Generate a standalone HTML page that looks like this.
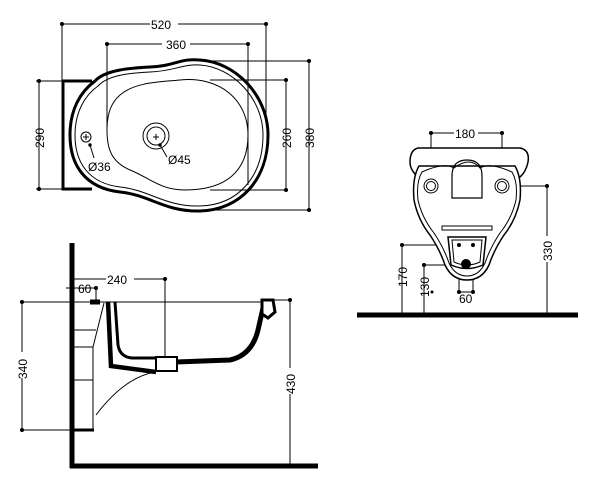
<!DOCTYPE html>
<html><head><style>
html,body{margin:0;padding:0;background:#fff;}
svg{display:block;}
text{font-family:"Liberation Sans",sans-serif;font-size:12px;fill:#000;}
</style></head><body>
<svg width="601" height="491" viewBox="0 0 601 491" xmlns="http://www.w3.org/2000/svg">
<g stroke="#000" fill="none" stroke-width="1">
<!-- TOP VIEW -->
<line x1="62" y1="24" x2="266" y2="24"/>
<line x1="62" y1="24" x2="62" y2="81"/>
<line x1="266" y1="24" x2="266" y2="118"/>
<line x1="107" y1="44" x2="248" y2="44"/>
<line x1="107" y1="44" x2="107" y2="130"/>
<line x1="248" y1="44" x2="248" y2="185"/>
<line x1="39" y1="81" x2="39" y2="189"/>
<line x1="36" y1="81" x2="64" y2="81"/>
<line x1="36" y1="189" x2="64" y2="189"/>
<line x1="286" y1="80" x2="286" y2="190"/>
<line x1="210" y1="80" x2="288" y2="80"/>
<line x1="210" y1="190" x2="288" y2="190"/>
<line x1="309" y1="61" x2="309" y2="210"/>
<line x1="200" y1="61" x2="311" y2="61"/>
<line x1="200" y1="210" x2="311" y2="210"/>
<!-- left rect -->
<path d="M92,81 L63,81 L63,189 L92,189" stroke-width="3"/>
<!-- outer body -->
<path d="M95,81 C105,70 130,68 150,67 C175,66 180,58 200,60 C235,62 268,95 268,135 C268,180 240,210 200,211 C165,212 150,195 120,192 C85,188 70,165 70,135 C70,110 80,92 95,81 Z" stroke-width="3"/>
<path d="M98,86 C108,75 130,73 150,72 C175,71 182,64 200,65 C232,67 263,98 263,135 C263,177 238,205 200,206 C165,207 150,190 120,187 C88,183 75,162 75,135 C75,112 85,95 98,86 Z"/>
<!-- inner basin -->
<path d="M120,95 C135,82 160,82 180,80 C220,76 248,100 248,135 C248,172 225,190 185,190 C160,190 150,178 130,170 C112,162 107,150 107,130 C107,112 112,102 120,95 Z"/>
<circle cx="86" cy="137" r="5"/>
<line x1="83" y1="137" x2="89" y2="137"/><line x1="86" y1="134" x2="86" y2="140"/>
<line x1="90" y1="145" x2="94" y2="158"/>
<circle cx="156" cy="136" r="13"/>
<circle cx="156" cy="136" r="9"/>
<line x1="153" y1="137" x2="159" y2="137"/><line x1="156" y1="134" x2="156" y2="140"/>
<line x1="160" y1="145" x2="167" y2="157"/>
</g>
<g fill="#000">
<circle cx="62" cy="24" r="2"/><circle cx="266" cy="24" r="2"/>
<circle cx="107" cy="44" r="2"/><circle cx="248" cy="44" r="2"/>
<circle cx="39" cy="81" r="2"/><circle cx="39" cy="189" r="2"/>
<circle cx="286" cy="80" r="2"/><circle cx="286" cy="190" r="2"/>
<circle cx="309" cy="61" r="2"/><circle cx="309" cy="210" r="2"/>
<circle cx="90" cy="145" r="1.7"/><circle cx="160" cy="145" r="1.7"/>
</g>
<rect x="150" y="18" width="28" height="12" fill="#fff"/>
<text x="151" y="29">520</text>
<rect x="162" y="38" width="28" height="12" fill="#fff"/>
<text x="166" y="49">360</text>
<text x="88" y="171">Ø36</text>
<text x="168" y="164">Ø45</text>
<text transform="translate(44,148) rotate(-90)">290</text>
<text transform="translate(291,148) rotate(-90)">260</text>
<text transform="translate(314,148) rotate(-90)">380</text>

<!-- SIDE VIEW -->
<g stroke="#000" fill="none" stroke-width="1">
<line x1="72" y1="279" x2="165" y2="279"/>
<line x1="165" y1="279" x2="165" y2="358"/>
<line x1="66" y1="288" x2="96" y2="288"/>
<line x1="96" y1="288" x2="96" y2="302"/>
<line x1="22" y1="302" x2="265" y2="302"/>
<line x1="22" y1="302" x2="22" y2="430"/>
<line x1="22" y1="430" x2="72" y2="430"/>
<line x1="268" y1="300" x2="290" y2="300"/>
<line x1="290" y1="300" x2="290" y2="468"/>
<!-- bracket lines -->
<line x1="72" y1="330" x2="96" y2="330"/>
<line x1="72" y1="347" x2="93" y2="347"/>
<line x1="72" y1="380" x2="93" y2="380"/>
<path d="M104,303 L93,347 L93,430"/>
<path d="M96,415 C115,390 135,375 156,372"/>
</g>
<g stroke="#000" fill="none" stroke-width="5">
<line x1="72" y1="243" x2="72" y2="468"/>
<line x1="70" y1="466" x2="318" y2="466"/>
<path d="M108,302 L111,366 L156,372" stroke-width="4.5"/>
<path d="M115,302 L118,345 Q120,357 132,358 L156,358" stroke-width="3"/>
<path d="M176,362 L230,360 Q252,355 258,330 L263,308" stroke-width="5"/>
<path d="M90,302 L100,302" stroke-width="5"/>
</g>
<rect x="156" y="357" width="21" height="14" fill="#fff" stroke="#000" stroke-width="2"/>
<path d="M262,300 L273,300 L275,312 L268,318 L262,314 Z" fill="#fff" stroke="#000" stroke-width="3"/>
<line x1="72" y1="430" x2="94" y2="430" stroke="#000" stroke-width="3"/>
<g fill="#000">
<circle cx="22" cy="302" r="2"/><circle cx="22" cy="430" r="2"/>
<circle cx="165" cy="279" r="2"/><circle cx="96" cy="288" r="2"/>
<circle cx="290" cy="300" r="2"/><circle cx="290" cy="466" r="2"/>
</g>
<rect x="106" y="273" width="28" height="12" fill="#fff"/>
<text x="107" y="284">240</text>
<text x="78" y="293">60</text>
<rect x="14" y="352" width="14" height="26" fill="#fff"/>
<text transform="translate(27,379) rotate(-90)">340</text>
<rect x="284" y="368" width="14" height="26" fill="#fff"/>
<text transform="translate(295,394) rotate(-90)">430</text>

<!-- FRONT VIEW -->
<g stroke="#000" fill="none" stroke-width="1">
<line x1="431" y1="133" x2="502" y2="133"/>
<line x1="431" y1="133" x2="431" y2="186"/>
<line x1="502" y1="133" x2="502" y2="186"/>
<line x1="502" y1="186" x2="547" y2="186"/>
<line x1="547" y1="186" x2="547" y2="315"/>
<line x1="402" y1="245" x2="460" y2="245"/>
<line x1="402" y1="245" x2="402" y2="315"/>
<line x1="424" y1="265" x2="460" y2="265"/>
<line x1="424" y1="265" x2="424" y2="315"/>
<line x1="459" y1="245" x2="459" y2="293"/>
<line x1="473" y1="245" x2="473" y2="293"/>
<line x1="459" y1="292" x2="473" y2="292"/>
<!-- cap -->
<path d="M418,148 L520,148 Q530,150 528,162 Q526,172 520,177 L418,177 Q410,170 410,162 Q410,150 418,148 Z" fill="#fff" stroke-width="1.5"/>
<!-- shield -->
<path d="M419,166 Q412,178 414,200 Q418,220 430,235 Q440,250 445,265 Q452,280 467,280 Q482,280 489,265 Q494,250 504,235 Q516,220 520,200 Q522,178 515,166 Z" fill="#fff" stroke-width="1.5"/>
<path d="M422,172 Q416,182 418,200 Q422,218 434,233 Q444,248 449,263 Q455,276 467,276 Q479,276 485,263 Q490,248 500,233 Q512,218 516,200 Q518,182 512,172 Q490,162 480,168 Q470,156 454,168 Q444,162 422,172 Z"/>
<path d="M452,176 Q452,160 467,160 Q482,160 482,176 L482,198 L452,198 Z" stroke-width="1.2"/>
<circle cx="431" cy="186" r="7"/><circle cx="431" cy="186" r="4.5"/>
<circle cx="502" cy="186" r="7"/><circle cx="502" cy="186" r="4.5"/>
<rect x="442" y="226" width="50" height="4"/>
<path d="M448,237 L486,237 L483,265 Q467,272 451,265 Z" stroke-width="1.5"/>
<path d="M452,240 L482,240 L480,262 Q467,268 454,262 Z"/>
</g>
<line x1="357" y1="315" x2="578" y2="315" stroke="#000" stroke-width="5"/>
<g fill="#000">
<circle cx="431" cy="133" r="2"/><circle cx="502" cy="133" r="2"/>
<circle cx="547" cy="186" r="2"/><circle cx="402" cy="245" r="2"/>
<circle cx="424" cy="265" r="2"/><circle cx="459" cy="245" r="2"/>
<circle cx="473" cy="245" r="2"/><circle cx="459" cy="292" r="2"/>
<circle cx="473" cy="292" r="2"/><circle cx="432" cy="292" r="1.5"/>
<circle cx="466" cy="264" r="5"/>
</g>
<rect x="454" y="127" width="24" height="12" fill="#fff"/>
<text x="455" y="138">180</text>
<text x="459" y="303">60</text>
<text transform="translate(407,287) rotate(-90)">170</text>
<text transform="translate(429,297) rotate(-90)">130</text>
<rect x="541" y="236" width="14" height="26" fill="#fff"/>
<text transform="translate(552,261) rotate(-90)">330</text>
</svg>
</body></html>
